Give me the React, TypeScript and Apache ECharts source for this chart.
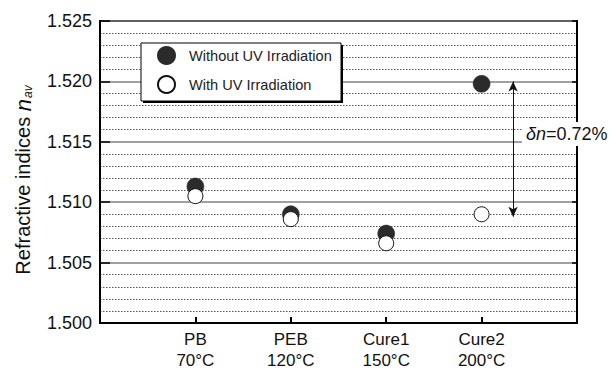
import React, { useEffect, useRef } from "react";
import * as echarts from "echarts";

const categories = ["PB", "PEB", "Cure1", "Cure2"];
const temperatures = ["70°C", "120°C", "150°C", "200°C"];
const withoutUV = [1.5113, 1.509, 1.5074, 1.5198];
const withUV = [1.5105, 1.5086, 1.5066, 1.509];
const yTicks = [1.5, 1.505, 1.51, 1.515, 1.52, 1.525];
const arrowX = 4.33;
const arrowRange = [1.52, 1.5088];
const deltaLabel = "0.72%";

const FONT = "'Liberation Sans', Arial, sans-serif";

export default function App() {
  const ref = useRef<HTMLDivElement>(null);
  useEffect(() => {
    document.body.style.margin = "0";
    const chart = echarts.init(ref.current!, null, { renderer: "svg" });
    const option: any = {
      animation: false,
      textStyle: { fontFamily: FONT },
      grid: {
        left: 100,
        right: 33,
        top: 21,
        bottom: 47,
        show: true,
        borderColor: "#000",
        borderWidth: 2,
        backgroundColor: "transparent",
        containLabel: false,
        outerBoundsMode: "none",
      },
      legend: {
        orient: "vertical",
        left: 157,
        top: 46,
        padding: 0,
        itemWidth: 17,
        itemHeight: 17,
        itemGap: 10,
        icon: "circle",
        z: 20,
        textStyle: { fontSize: 14.6, color: "#222", fontFamily: FONT, padding: [0, 0, 0, 9] },
        data: ["Without UV Irradiation", "With UV Irradiation"],
      },
      graphic: [
        { type: "rect", z: 15, shape: { x: 143, y: 45, width: 200, height: 58 }, style: { fill: "#000" } },
        { type: "rect", z: 16, shape: { x: 141, y: 43, width: 200, height: 58 }, style: { fill: "#fff", stroke: "#000", lineWidth: 1 } },
        {
          type: "text",
          z: 20,
          left: 522,
          top: 122,
          style: {
            text: "{i|δn}{r|=" + deltaLabel + "}",
            backgroundColor: "#fff",
            padding: [3, 3, 3, 4],
            rich: {
              i: { fontSize: 18, fontStyle: "italic", fontFamily: FONT, fill: "#111" },
              r: { fontSize: 18, fontFamily: FONT, fill: "#111" },
            },
          },
        },
      ],
      xAxis: {
        type: "value",
        min: 0,
        max: 5,
        interval: 1,
        splitLine: { show: false },
        axisLine: { show: true, lineStyle: { color: "#000", width: 2 } },
        axisTick: { show: true, inside: true, length: 6, lineStyle: { color: "#000", width: 2 } },
        axisLabel: {
          color: "#111",
          margin: 4,
          fontFamily: FONT,
          formatter: (v: number) =>
            v >= 1 && v <= categories.length ? "{a|" + categories[v - 1] + "}\n{b|" + temperatures[v - 1] + "}" : "",
          rich: {
            a: { fontSize: 17, lineHeight: 25, fontFamily: FONT, color: "#111" },
            b: { fontSize: 17, lineHeight: 17, fontFamily: FONT, color: "#111" },
          },
        },
      },
      yAxis: [
        {
          type: "value",
          min: yTicks[0],
          max: yTicks[yTicks.length - 1],
          interval: 0.005,
          name: "{a|Refractive indices }{b|n}{c|av}",
          nameLocation: "middle",
          nameGap: 66,
          nameTextStyle: {
            padding: [0, 16, 0, 0],
            rich: {
              a: { fontSize: 20, fontFamily: FONT, color: "#111" },
              b: { fontSize: 22, fontStyle: "italic", fontFamily: FONT, color: "#111" },
              c: { fontSize: 12, fontStyle: "italic", fontFamily: FONT, color: "#111", padding: [10, 0, 0, 1] },
            },
          },
          axisLine: { show: true, lineStyle: { color: "#000", width: 2 } },
          axisTick: { show: true, inside: true, length: 10, lineStyle: { color: "#000", width: 1.5 } },
          minorTick: { show: false, splitNumber: 5 },
          minorSplitLine: { show: true, lineStyle: { color: "#555", width: 1, type: [1.5, 1.5] } },
          splitLine: { show: true, lineStyle: { color: "#808080", width: 1.5 } },
          axisLabel: { fontSize: 18, color: "#111", margin: 8, fontFamily: FONT, formatter: (v: number) => v.toFixed(3) },
        },
        {
          type: "value",
          position: "right",
          min: yTicks[0],
          max: yTicks[yTicks.length - 1],
          interval: 0.005,
          axisLine: { show: true, lineStyle: { color: "#000", width: 2 } },
          axisTick: { show: true, inside: true, length: 5, lineStyle: { color: "#000", width: 1.5 } },
          axisLabel: { show: false },
          splitLine: { show: false },
        },
      ],
      series: [
        {
          name: "Without UV Irradiation",
          type: "scatter",
          symbol: "circle",
          symbolSize: 17,
          z: 3,
          itemStyle: { color: "#2b2b2b", borderColor: "#2b2b2b", borderWidth: 0.5, opacity: 1 },
          data: withoutUV.map((v, i) => [i + 1, v]),
          markLine: {
            silent: true,
            symbol: ["arrow", "arrow"],
            symbolSize: [7, 10],
            label: { show: false },
            lineStyle: { color: "#111", width: 1, type: "solid" },
            data: [[{ coord: [arrowX, arrowRange[0]] }, { coord: [arrowX, arrowRange[1]] }]],
          },
        },
        {
          name: "With UV Irradiation",
          type: "scatter",
          symbol: "circle",
          symbolSize: 15,
          z: 4,
          itemStyle: { color: "#fff", borderColor: "#111", borderWidth: 1, opacity: 1 },
          data: withUV.map((v, i) => [i + 1, v]),
        },
      ],
    };
    chart.setOption(option);
    return () => chart.dispose();
  }, []);
  return <div ref={ref} style={{ width: 610, height: 370 }} />;
}
